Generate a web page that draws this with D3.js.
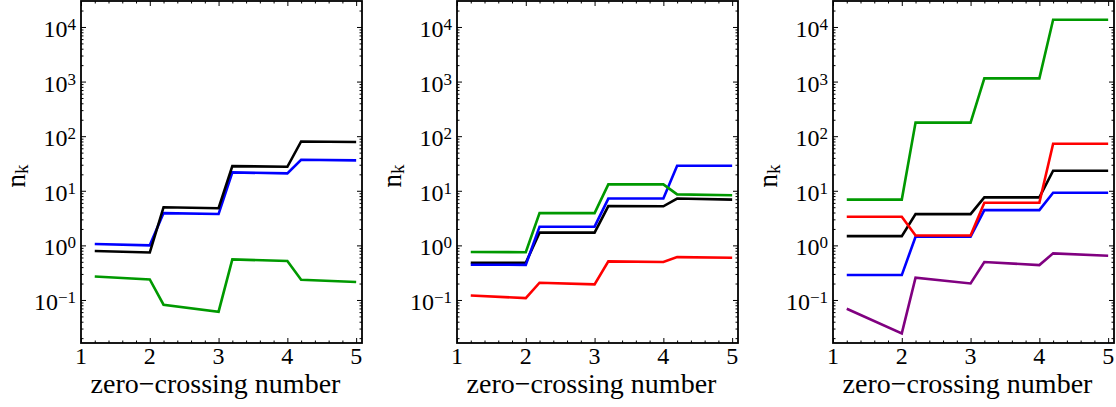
<!DOCTYPE html>
<html><head><meta charset="utf-8">
<script src="https://cdn.jsdelivr.net/npm/d3@7"></script>
<style>body{margin:0;background:#fff}svg{display:block}
svg text{font-family:"Liberation Serif","DejaVu Serif",serif;fill:#000}</style>
</head><body>
<svg id="c" width="1116" height="407"></svg>
<script>
const xVals = [1.2, 2, 2.2, 3, 3.2, 4, 4.2, 5];
const xTickLabels = [1, 2, 3, 4, 5];
const yTickExps = [-1, 0, 1, 2, 3, 4];
const xTitle = "zero\u2212crossing number";

// Panel 1
const p1Black = [0.79, 0.74, 5.0, 4.8, 28.3, 27.5, 80, 78];
const p1Blue  = [1.06, 1.0, 3.9, 3.75, 21.7, 20.8, 37, 36];
const p1Green = [0.27, 0.238, 0.082, 0.061, 0.555, 0.516, 0.235, 0.213];
// Panel 2
const p2Green = [0.755, 0.75, 3.9, 3.9, 13.1, 13.1, 8.6, 8.3];
const p2Blue  = [0.443, 0.44, 2.2, 2.2, 7.2, 7.2, 28.8, 28.8];
const p2Black = [0.48, 0.48, 1.71, 1.71, 5.25, 5.2, 7.2, 6.9];
const p2Red   = [0.121, 0.108, 0.207, 0.193, 0.51, 0.495, 0.61, 0.594];
// Panel 3
const p3Green  = [6.9, 6.9, 177, 177, 1145, 1145, 13600, 13600];
const p3Red    = [3.35, 3.35, 1.52, 1.52, 6.05, 6.05, 72.8, 72.8];
const p3Black  = [1.48, 1.48, 3.74, 3.74, 7.57, 7.57, 23.3, 23.3];
const p3Blue   = [0.286, 0.286, 1.44, 1.44, 4.43, 4.43, 9.2, 9.2];
const p3Purple = [0.069, 0.0244, 0.256, 0.201, 0.495, 0.436, 0.714, 0.647];

const C = {black:"#000000", blue:"#0000ff", green:"#009900", red:"#ff0000", purple:"#800080"};

const panels = [
  {left:81, series:[[p1Green,C.green],[p1Blue,C.blue],[p1Black,C.black]]},
  {left:457, series:[[p2Red,C.red],[p2Black,C.black],[p2Blue,C.blue],[p2Green,C.green]]},
  {left:833, series:[[p3Purple,C.purple],[p3Blue,C.blue],[p3Black,C.black],[p3Red,C.red],[p3Green,C.green]]}
];

const W = 281, TOP = 1, BOT = 343;
const svg = d3.select("#c");

panels.forEach(p => {
  const g = svg.append("g");
  const x = d3.scaleLinear().domain([1, 5.085]).range([p.left, p.left + W]);
  const y = d3.scaleLog().domain([0.0163, 29900]).range([BOT, TOP]);

  const majorY = yTickExps.map(e => Math.pow(10, e));
  const minorY = [];
  for (let e = -2; e <= 4; e++) for (let m = 2; m <= 9; m++) {
    const v = m * Math.pow(10, e);
    if (v >= y.domain()[0] && v <= y.domain()[1]) minorY.push(v);
  }
  const majorX = xTickLabels;
  const minorX = d3.range(1.2, 5.09, 0.2).filter(v => Math.abs(v - Math.round(v)) > 1e-6);

  const style = sel => { sel.select(".domain").remove(); sel.selectAll("line").attr("stroke", "#000").attr("stroke-width", 1); sel.selectAll("text").remove(); };

  g.append("g").attr("transform", `translate(${p.left},0)`).call(d3.axisLeft(y).tickValues(majorY).tickSize(-5)).call(style);
  g.append("g").attr("transform", `translate(${p.left},0)`).call(d3.axisLeft(y).tickValues(minorY).tickSize(-2.5)).call(style);
  g.append("g").attr("transform", `translate(${p.left + W},0)`).call(d3.axisRight(y).tickValues(majorY).tickSize(-5)).call(style);
  g.append("g").attr("transform", `translate(${p.left + W},0)`).call(d3.axisRight(y).tickValues(minorY).tickSize(-2.5)).call(style);
  g.append("g").attr("transform", `translate(0,${BOT})`).call(d3.axisBottom(x).tickValues(majorX).tickSize(-5)).call(style);
  g.append("g").attr("transform", `translate(0,${BOT})`).call(d3.axisBottom(x).tickValues(minorX).tickSize(-2.5)).call(style);
  g.append("g").attr("transform", `translate(0,${TOP})`).call(d3.axisTop(x).tickValues(majorX).tickSize(-5)).call(style);
  g.append("g").attr("transform", `translate(0,${TOP})`).call(d3.axisTop(x).tickValues(minorX).tickSize(-2.5)).call(style);

  const line = d3.line().x((d, i) => x(xVals[i])).y(d => y(d));
  p.series.forEach(([vals, col]) => {
    g.append("path").datum(vals).attr("d", line).attr("fill", "none")
      .attr("stroke", col).attr("stroke-width", 2.6).attr("stroke-linejoin", "miter");
  });

  g.append("rect").attr("x", p.left).attr("y", TOP).attr("width", W).attr("height", BOT - TOP)
    .attr("fill", "none").attr("stroke", "#000").attr("stroke-width", 1.8);

  g.selectAll(".xl").data(majorX).enter().append("text")
    .attr("x", d => x(d)).attr("y", 364).attr("text-anchor", "middle")
    .style("font-size", "24px").text(d => d);

  yTickExps.forEach(e => {
    const t = g.append("text").attr("x", p.left - 5).attr("y", y(Math.pow(10, e)) + 10)
      .attr("text-anchor", "end").style("font-size", "24px");
    t.append("tspan").text("10");
    t.append("tspan").attr("dy", -7).style("font-size", "17px").text(e < 0 ? "\u2212" + (-e) : String(e));
  });

  g.append("text").attr("x", p.left + W / 2 - 6).attr("y", 393).attr("text-anchor", "middle")
    .style("font-size", "28px").text(xTitle);

  const yt = g.append("text").attr("transform", `translate(${p.left - 56},176) rotate(-90)`)
    .attr("text-anchor", "middle").style("font-size", "27px");
  yt.append("tspan").text("n");
  yt.append("tspan").attr("dy", 3).style("font-size", "19px").text("k");
});
</script>
</body></html>
